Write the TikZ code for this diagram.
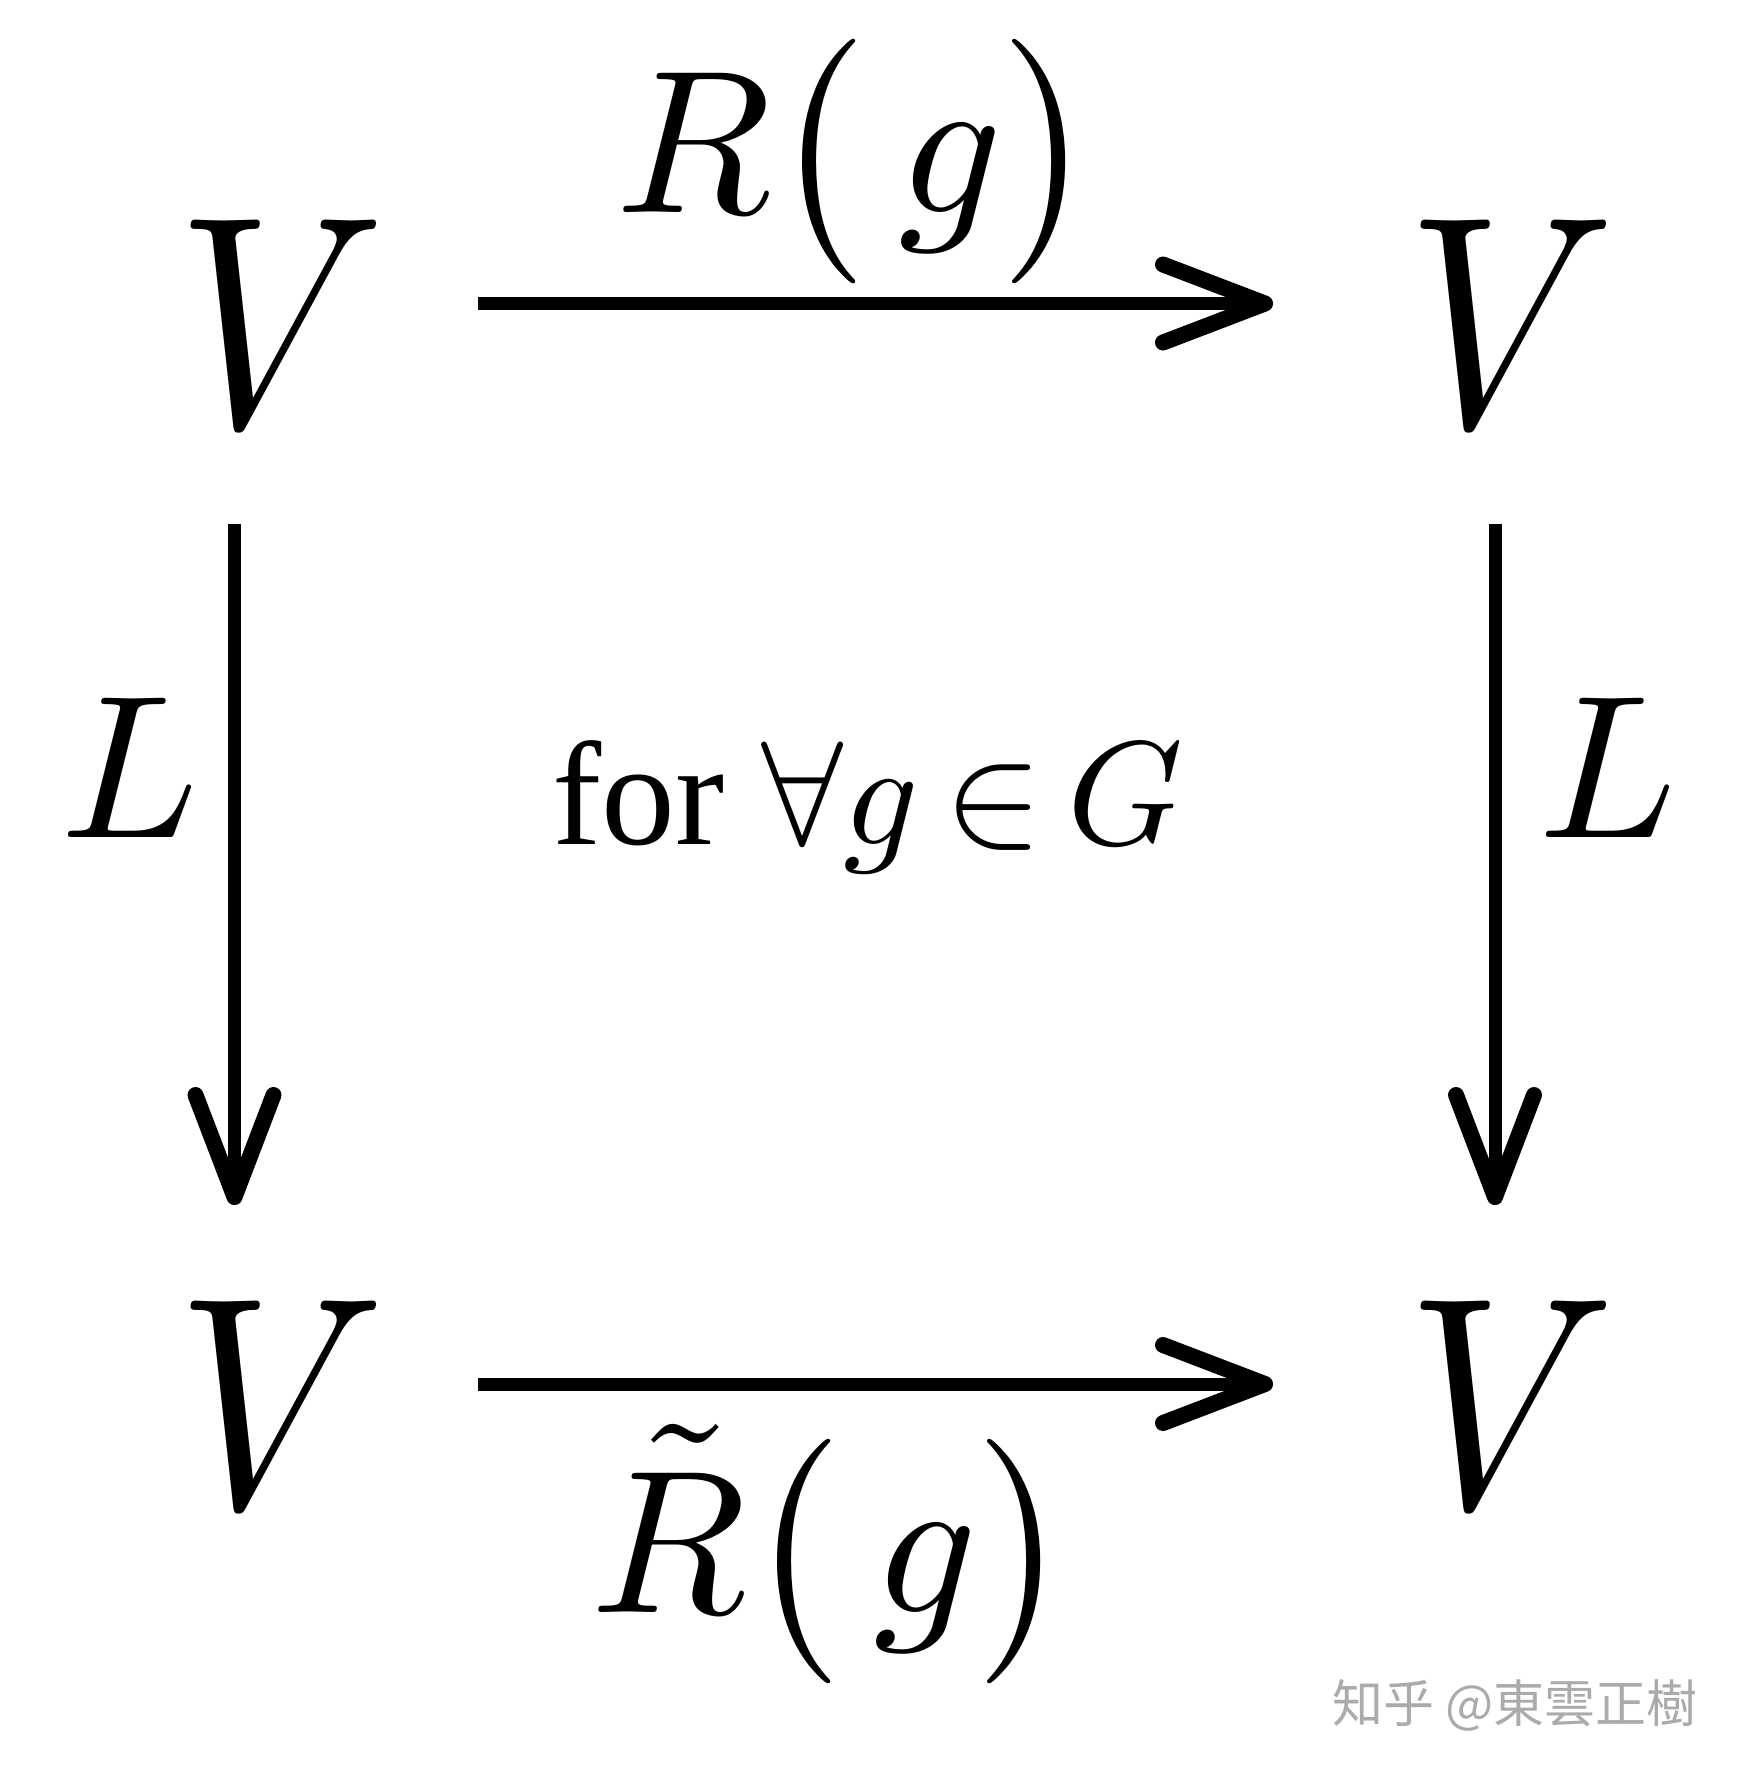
\documentclass[tikz,border=0pt]{standalone}
\usepackage{amsmath}
\usepackage{graphicx}
\usepackage{fontspec}
\setmainfont{Liberation Serif}
\newfontfamily\cjkfont{Noto Sans CJK SC}
\usetikzlibrary{positioning,calc,arrows.meta}

\newcommand{\sizeV}[1]{\scalebox{7.4}[8.6]{#1}}
\newcommand{\sizeL}[1]{\scalebox{5.8}{#1}}
\newcommand{\sizeC}[1]{\scalebox{4.2}{#1}}

\begin{document}
\begin{tikzpicture}[x=0.1mm, y=-0.1mm]
	\useasboundingbox (0,0) rectangle (1743,1776);
	\begin{scope}
		\tikzstyle{every node}=[align=center, inner sep=0pt]
		\tikzstyle{arr}=[line width=1.3mm, -{Straight Barb[length=10.2mm, width=7.8mm, line width=1.6mm, round]}]

		\node (tl) at (281, 323) {\sizeV{$V$}};
		\node (tr) at (1511, 323) {\sizeV{$V$}};
		\node (bl) at (281, 1404) {\sizeV{$V$}};
		\node (br) at (1511, 1404) {\sizeV{$V$}};

		\node (rg) at (856, 162) {\sizeL{$R\bigl(\,g\bigr)$}};
		\node (rtg) at (831, 1554) {\sizeL{$\tilde{R}\bigl(\,g\bigr)$}};
		\node (ll) at (130, 768) {\sizeL{$L$}};
		\node (lr) at (1608, 768) {\sizeL{$L$}};

		\node[anchor=base] (cond) at (868, 844) {\sizeC{for $\forall g\,{\in}\,G$}};
		\node[font=\cjkfont\fontsize{14.5}{16}\selectfont, text=black!33] (mark) at (1515, 1705) {知乎 @東雲正樹};

		\draw [arr, shorten <=19.7mm, shorten >=23.8mm] ([yshift=1.95mm]tl.center) to ([yshift=1.95mm]tr.center);
		\draw [arr, shorten <=19.7mm, shorten >=23.8mm] ([yshift=2mm]bl.center) to ([yshift=2mm]br.center);
		\draw [arr, shorten <=20.1mm, shorten >=19.9mm] ([xshift=-4.65mm]tl.center) to ([xshift=-4.65mm]bl.center);
		\draw [arr, shorten <=20.1mm, shorten >=19.9mm] ([xshift=-1.6mm]tr.center) to ([xshift=-1.6mm]br.center);
	\end{scope}
\end{tikzpicture}
\end{document}
